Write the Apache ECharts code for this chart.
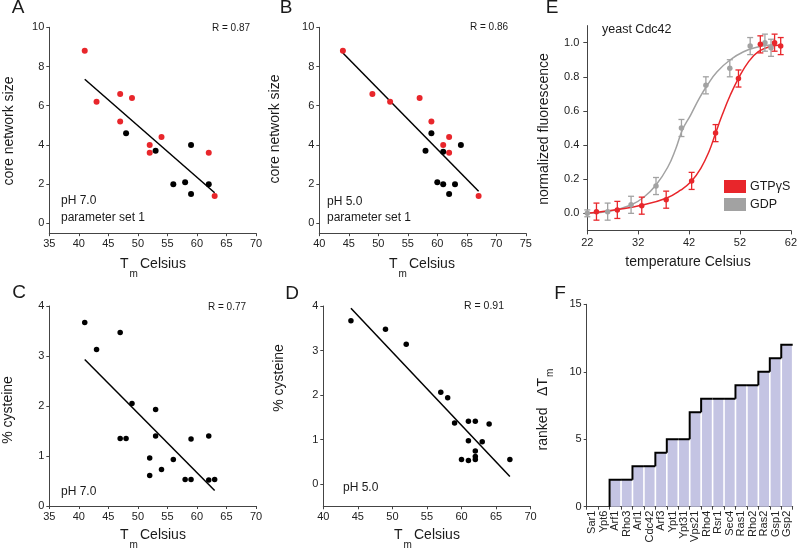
<!DOCTYPE html>
<html><head><meta charset="utf-8">
<script src="https://cdn.jsdelivr.net/npm/echarts@6/dist/echarts.min.js"></script>
<style>html,body{margin:0;padding:0;background:#fff}#c{width:800px;height:548px}</style>
</head><body><div id="c"></div>
<script>
// ---------- DATA ----------
// Panel A (pH 7.0): Tm vs core network size
const aRedX = [41, 43, 47, 49, 47, 54, 52, 52, 62, 63];
const aRedY = [8.8, 6.2, 6.6, 6.4, 5.2, 4.4, 4.0, 3.6, 3.6, 1.4];
const aBlkX = [48, 53, 59, 56, 58, 59, 62];
const aBlkY = [4.6, 3.7, 4.0, 2.0, 2.1, 1.5, 2.0];
const aFitX = [41, 63];
const aFitY = [7.35, 1.56];
// Panel B (pH 5.0)
const bRedX = [44, 49, 52, 57, 59, 62, 61, 62, 67];
const bRedY = [8.8, 6.6, 6.2, 6.4, 5.2, 4.4, 4.0, 3.6, 1.4];
const bBlkX = [59, 58, 61, 64, 60, 61, 63, 62];
const bBlkY = [4.6, 3.7, 3.65, 4.0, 2.1, 2.0, 2.0, 1.5];
const bFitX = [44, 67];
const bFitY = [8.69, 1.64];
// Panel C (pH 7.0): Tm vs % cysteine
const cX = [41, 43, 47, 49, 53, 47, 48, 53, 52, 52, 54, 56, 58, 59, 59, 62, 62, 63];
const cY = [3.67, 3.13, 3.47, 2.05, 1.93, 1.35, 1.35, 1.4, 0.96, 0.61, 0.73, 0.93, 0.53, 0.53, 1.34, 1.4, 0.52, 0.53];
const cFitX = [41, 63];
const cFitY = [2.93, 0.31];
// Panel D (pH 5.0)
const dX = [44, 49, 52, 57, 58, 59, 61, 62, 64, 61, 63, 62, 62, 62, 60, 61, 67];
const dY = [3.67, 3.48, 3.14, 2.06, 1.94, 1.37, 1.41, 1.41, 1.35, 0.97, 0.95, 0.74, 0.62, 0.55, 0.55, 0.53, 0.55];
const dFitX = [44, 67];
const dFitY = [3.95, 0.17];
// Panel E: yeast Cdc42 melt curves
const gtpX = [23.8, 27.9, 32.7, 37.5, 42.5, 47.2, 51.7, 56.0, 58.8, 60.0];
const gtpY = [0.01, 0.02, 0.045, 0.08, 0.19, 0.47, 0.79, 0.99, 1.0, 0.98];
const gtpErr = [0.05, 0.05, 0.05, 0.05, 0.05, 0.05, 0.05, 0.05, 0.05, 0.05];
const gdpX = [22, 26.0, 30.6, 35.5, 40.5, 45.3, 50.0, 54.0, 56.9, 58.1];
const gdpY = [0.0, 0.01, 0.05, 0.16, 0.5, 0.75, 0.85, 0.98, 1.0, 0.97];
const gdpErr = [0.02, 0.05, 0.05, 0.05, 0.05, 0.05, 0.05, 0.05, 0.05, 0.05];
const gtpCurveX = [22, 23.8, 28.0, 32.6, 37.5, 40.4, 42.4, 44.3, 45.9, 47.2, 48.5, 50.1, 51.7, 53.7, 55.6, 57.9, 60.2];
const gtpCurveY = [0.0, 0.006, 0.023, 0.047, 0.088, 0.137, 0.186, 0.264, 0.361, 0.469, 0.576, 0.693, 0.791, 0.889, 0.947, 0.977, 0.987];
const gdpCurveX = [22, 26.1, 30.6, 33.2, 35.5, 37.8, 39.4, 40.7, 42.3, 44.0, 45.6, 47.5, 50.1, 52.7, 55.3, 57.9, 58.8];
const gdpCurveY = [0.0, 0.01, 0.049, 0.097, 0.166, 0.27, 0.38, 0.49, 0.576, 0.674, 0.752, 0.83, 0.90, 0.947, 0.973, 0.987, 0.99];
// Panel F: ranked delta Tm
const proteins = ['Sar1','Ypt6','Arf1','Rho3','Arl1','Cdc42','Arf3','Ypt1','Ypt31','Vps21','Rho4','Rsr1','Sec4','Ras1','Rho2','Ras2','Gsp1','Gsp2'];
const rankedDTm = [0, 0, 2, 2, 3, 3, 4, 5, 5, 7, 8, 8, 8, 9, 9, 10, 11, 12];
// Tick values
const ticksAB_y = [0, 2, 4, 6, 8, 10];
const ticksD_y = [0, 1, 2, 3, 4];
const ticksE_x = [22, 32, 42, 52, 62];
const ticksE_y = [0, 0.2, 0.4, 0.6, 0.8, 1.0];

// ---------- HELPERS ----------
const FONT = '"Liberation Sans", Arial, sans-serif';
const RED = '#e8262b', GRAY = '#a2a2a2', AX = '#444', LBL = '#222';
const zip = (xs, ys) => xs.map((x, i) => [x, ys[i]]);
const zip3 = (xs, ys, es) => xs.map((x, i) => [x, ys[i], es[i]]);

function axisBase(extra) {
  return Object.assign({
    axisLine: { show: true, onZero: false, lineStyle: { color: AX, width: 1 } },
    axisTick: { show: true, length: 3, lineStyle: { color: AX } },
    axisLabel: { color: LBL, fontSize: 11, fontFamily: FONT, margin: 5 },
    splitLine: { show: false }
  }, extra);
}
function valX(grid, min, max, interval) {
  return axisBase({ gridIndex: grid, type: 'value', min, max, interval });
}
function valYCustom(grid, min, max, vals, fmt) {
  const a = axisBase({ gridIndex: grid, type: 'value', min, max });
  a.axisLabel.customValues = vals;
  if (fmt) a.axisLabel.formatter = fmt;
  a.axisTick.customValues = vals;
  return a;
}
function scatter(idx, data, color, size) {
  return { type: 'scatter', xAxisIndex: idx, yAxisIndex: idx, data, symbolSize: size || 6,
    itemStyle: { color, opacity: 1 }, z: 5, silent: true };
}
function fit(idx, data) {
  return { type: 'line', xAxisIndex: idx, yAxisIndex: idx, data, symbol: 'none',
    lineStyle: { color: '#000', width: 1.5 }, z: 3, silent: true };
}
function errBars(color, data, name) {
  return {
    type: 'custom', name, xAxisIndex: 4, yAxisIndex: 4, data, z: 4, silent: true,
    encode: { x: 0, y: 1 },
    renderItem: (p, api) => {
      const x = api.value(0), y = api.value(1), e = api.value(2);
      const t = api.coord([x, y + e]), b = api.coord([x, y - e]);
      const w = 3, st = { stroke: color, lineWidth: 1.3 };
      return { type: 'group', children: [
        { type: 'line', shape: { x1: t[0], y1: t[1], x2: b[0], y2: b[1] }, style: st },
        { type: 'line', shape: { x1: t[0] - w, y1: t[1], x2: t[0] + w, y2: t[1] }, style: st },
        { type: 'line', shape: { x1: b[0] - w, y1: b[1], x2: b[0] + w, y2: b[1] }, style: st }
      ] };
    }
  };
}
function txt(x, y, text, size, align, extra) {
  return Object.assign({ type: 'text', x, y, silent: true,
    style: { text, font: size + 'px ' + FONT, fill: '#1a1a1a', align: align || 'left', verticalAlign: 'middle' } }, extra || {});
}
function rotTxt(x, y, text, size) {
  return txt(x, y, text, size, 'center', { rotation: Math.PI / 2 });
}
function tmTitle(x0, y0) {
  return { type: 'group', x: x0, y: y0, silent: true, children: [
    txt(0, 0, 'T', 14, 'left'),
    txt(9.5, 10, 'm', 10, 'left'),
    txt(20, 0, 'Celsius', 14, 'left')
  ] };
}

const chart = echarts.init(document.getElementById('c'), null, { renderer: 'canvas' });

const option = {
  animation: false,
  backgroundColor: '#fff',
  grid: [
    { left: 49.3, top: 27.3, width: 206.7, height: 205.9 },
    { left: 319.3, top: 27.3, width: 206.5, height: 205.9 },
    { left: 49.3, top: 306, width: 206.7, height: 200 },
    { left: 323.3, top: 306, width: 207.3, height: 200.3 },
    { left: 587.3, top: 25.6, width: 205.4, height: 204.8 },
    { left: 586.7, top: 304.3, width: 206, height: 202.4 }
  ],
  xAxis: [
    valX(0, 35, 70, 5),
    valX(1, 40, 75, 5),
    valX(2, 35, 70, 5),
    valX(3, 40, 70, 5),
    (() => { const a = axisBase({ gridIndex: 4, type: 'value', min: 22, max: 62 });
      a.axisLabel.customValues = ticksE_x; a.axisTick.customValues = ticksE_x;
      a.axisTick.length = 4; a.axisLabel.margin = 7; return a; })(),
    (() => { const a = axisBase({ gridIndex: 5, type: 'category', data: proteins, boundaryGap: true });
      a.axisLabel.rotate = 90; a.axisLabel.interval = 0; a.axisLabel.fontSize = 11; a.axisLabel.margin = 4;
      a.axisTick.interval = 0; return a; })()
  ],
  yAxis: [
    valYCustom(0, -0.5, 10, ticksAB_y),
    valYCustom(1, -0.5, 10, ticksAB_y),
    axisBase({ gridIndex: 2, type: 'value', min: 0, max: 4, interval: 1 }),
    valYCustom(3, -0.5, 4, ticksD_y),
    (() => { const a = valYCustom(4, -0.1, 1.1, ticksE_y, v => v.toFixed(1));
      a.axisTick.length = 4; a.axisLabel.margin = 8; return a; })(),
    axisBase({ gridIndex: 5, type: 'value', min: 0, max: 15, interval: 5 })
  ],
  legend: {
    show: true, orient: 'vertical', left: 724, top: 180, itemWidth: 22, itemHeight: 13, itemGap: 5,
    icon: 'rect', padding: 0, selectedMode: false,
    textStyle: { fontSize: 12.5, fontFamily: FONT, color: '#1a1a1a', padding: [0, 0, 0, -1] },
    data: [{ name: 'GTPγS', itemStyle: { color: RED } }, { name: 'GDP', itemStyle: { color: GRAY } }]
  },
  series: [
    fit(0, zip(aFitX, aFitY)),
    scatter(0, zip(aRedX, aRedY), RED),
    scatter(0, zip(aBlkX, aBlkY), '#000'),
    fit(1, zip(bFitX, bFitY)),
    scatter(1, zip(bRedX, bRedY), RED),
    scatter(1, zip(bBlkX, bBlkY), '#000'),
    fit(2, zip(cFitX, cFitY)),
    scatter(2, zip(cX, cY), '#000', 5.5),
    fit(3, zip(dFitX, dFitY)),
    scatter(3, zip(dX, dY), '#000', 5.5),
    { type: 'line', name: 'GDP', xAxisIndex: 4, yAxisIndex: 4, data: zip(gdpCurveX, gdpCurveY),
      smooth: 0.45, symbol: 'none', itemStyle: { color: GRAY },
      lineStyle: { color: GRAY, width: 1.5 }, z: 2, silent: true },
    { type: 'line', name: 'GTPγS', xAxisIndex: 4, yAxisIndex: 4, data: zip(gtpCurveX, gtpCurveY),
      smooth: 0.45, symbol: 'none', itemStyle: { color: RED },
      lineStyle: { color: RED, width: 1.5 }, z: 2, silent: true },
    errBars(GRAY, zip3(gdpX, gdpY, gdpErr)),
    errBars(RED, zip3(gtpX, gtpY, gtpErr)),
    Object.assign(scatter(4, zip(gdpX, gdpY), GRAY, 5.5), { z: 6 }),
    Object.assign(scatter(4, zip(gtpX, gtpY), RED, 5.5), { z: 6 }),
    { type: 'bar', xAxisIndex: 5, yAxisIndex: 5, data: rankedDTm, barCategoryGap: '14%',
      itemStyle: { color: '#c4c4e3' }, silent: true, z: 2 },
    { type: 'custom', xAxisIndex: 5, yAxisIndex: 5, silent: true, z: 4,
      data: rankedDTm.map((v, i) => [i, v, i > 0 ? rankedDTm[i - 1] : 0]),
      encode: { x: 0, y: 1 },
      renderItem: (p, api) => {
        const i = api.value(0), v = api.value(1), pv = api.value(2);
        if (v === 0 && pv === 0) return null;
        const c = api.coord([i, v]);
        const bw = api.size([1, 0])[0];
        const l = c[0] - bw / 2, r = c[0] + bw / 2;
        const py = api.coord([i, pv])[1];
        return { type: 'polyline', shape: { points: [[l, py], [l, c[1]], [r, c[1]]] },
          style: { stroke: '#000', lineWidth: 2, fill: 'none' } };
      } }
  ],
  graphic: [
    // panel letters
    txt(18, 8, 'A', 19, 'center'),
    txt(286, 8, 'B', 19, 'center'),
    txt(19, 293, 'C', 19, 'center'),
    txt(292, 294, 'D', 19, 'center'),
    txt(552, 8, 'E', 19, 'center'),
    txt(560, 294, 'F', 19, 'center'),
    // R values
    txt(212, 28.5, 'R = 0.87', 10),
    txt(470, 27, 'R = 0.86', 10),
    txt(208, 307, 'R = 0.77', 10),
    txt(464, 306, 'R = 0.91', 10.5),
    // annotations
    txt(61, 201, 'pH 7.0', 12),
    txt(61, 218, 'parameter set 1', 12),
    txt(327, 202, 'pH 5.0', 12),
    txt(327, 218, 'parameter set 1', 12),
    txt(61, 492, 'pH 7.0', 12),
    txt(343, 488, 'pH 5.0', 12),
    txt(602, 30, 'yeast Cdc42', 12.5),
    // axis titles
    rotTxt(9, 131, 'core network size', 14),
    rotTxt(275, 129, 'core network size', 14),
    rotTxt(8, 410, '% cysteine', 14),
    rotTxt(279, 378, '% cysteine', 14),
    rotTxt(544, 129, 'normalized fluorescence', 14),
    tmTitle(120, 264),
    tmTitle(389, 264),
    tmTitle(120, 535.5),
    tmTitle(394, 535),
    txt(688, 262, 'temperature Celsius', 14, 'center'),
    { type: 'group', x: 543, y: 378, rotation: Math.PI / 2, silent: true, children: [
      txt(0, 0, 'ranked   ΔT', 14, 'right'),
      txt(1, 7, 'm', 10, 'left')
    ] }
  ]
};
chart.setOption(option);
</script>
</body></html>
